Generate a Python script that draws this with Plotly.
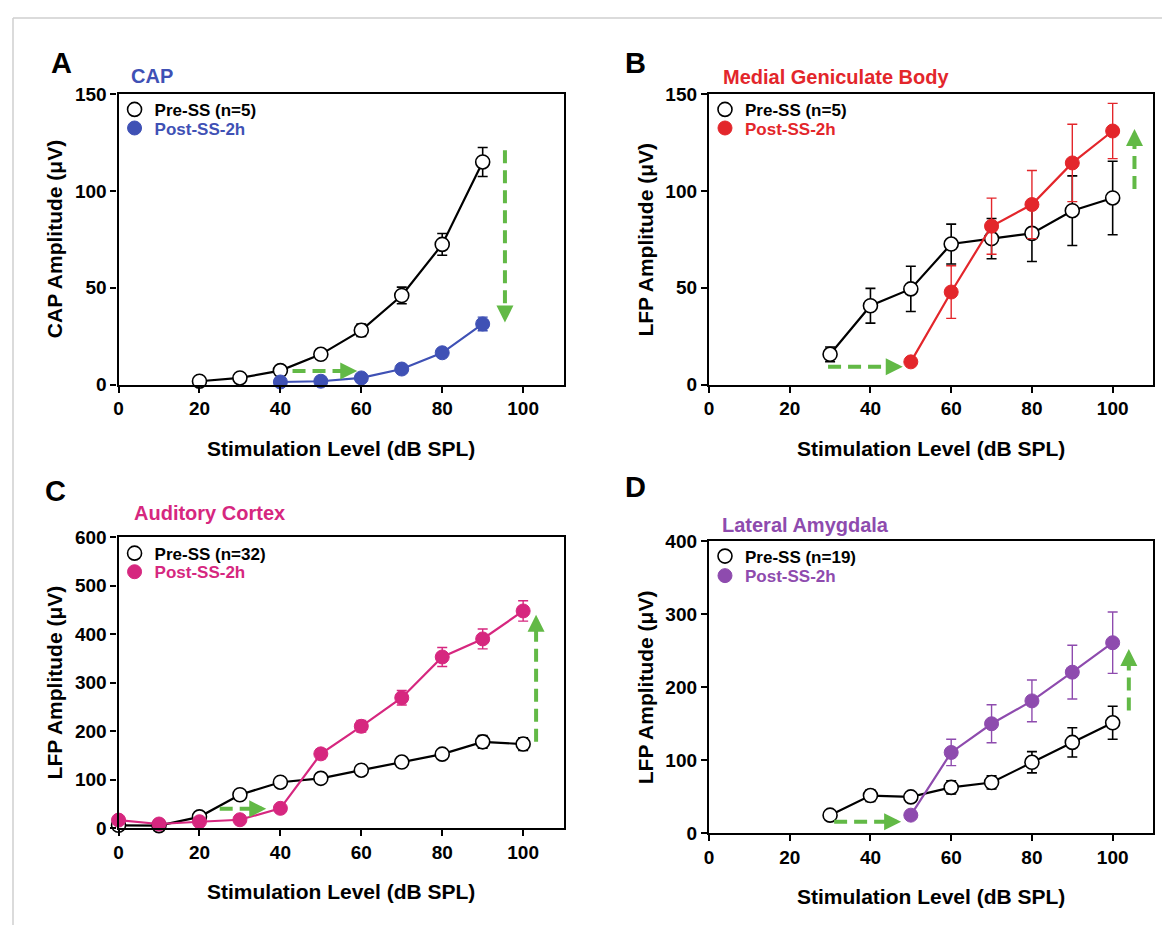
import plotly.graph_objects as go

# page is 1170x944; the html body keeps an 8px margin, so the figure fills the rest
PAGE_W, PAGE_H = 1170, 944
OFF = 8
W, H = PAGE_W - 2 * OFF, PAGE_H - 2 * OFF

# ---------------- data ----------------
# Panel A: CAP
a_pre_x = [20, 30, 40, 50, 60, 70, 80, 90]
a_pre_y = [1.7, 3.4, 7.2, 15.6, 28.0, 46.0, 72.4, 115.0]
a_pre_e = [0.8, 0.8, 1.0, 1.5, 3.2, 4.3, 5.6, 7.5]
a_post_x = [40, 50, 60, 70, 80, 90]
a_post_y = [1.3, 1.7, 3.4, 8.0, 16.4, 31.3]
a_post_e = [0.5, 0.5, 0.8, 1.0, 1.5, 3.5]

# Panel B: Medial Geniculate Body
b_pre_x = [30, 40, 50, 60, 70, 80, 90, 100]
b_pre_y = [15.6, 40.7, 49.4, 72.6, 75.4, 78.1, 89.8, 96.4]
b_pre_e = [3.8, 9.0, 11.7, 10.3, 10.4, 14.5, 18.0, 19.0]
b_post_x = [50, 60, 70, 80, 90, 100]
b_post_y = [11.7, 47.8, 81.8, 93.0, 114.5, 131.0]
b_post_e = [1.0, 13.6, 14.5, 17.6, 20.0, 14.3]

# Panel C: Auditory Cortex
c_pre_x = [0, 10, 20, 30, 40, 50, 60, 70, 80, 90, 100]
c_pre_y = [6.0, 5.4, 23.5, 69.0, 94.8, 102.8, 119.6, 136.4, 152.6, 178.0, 173.4]
c_pre_e = [2.0, 2.0, 3.0, 4.0, 4.0, 4.0, 5.0, 6.0, 6.0, 13.0, 13.0]
c_post_x = [0, 10, 20, 30, 40, 50, 60, 70, 80, 90, 100]
c_post_y = [16.8, 8.7, 13.4, 17.5, 41.0, 153.2, 210.0, 268.8, 352.8, 390.0, 447.6]
c_post_e = [3.0, 2.0, 3.0, 3.0, 5.0, 10.0, 12.0, 15.0, 19.5, 20.5, 21.0]

# Panel D: Lateral Amygdala
d_pre_x = [30, 40, 50, 60, 70, 80, 90, 100]
d_pre_y = [24.6, 51.4, 49.6, 62.6, 69.3, 97.0, 124.2, 151.0]
d_pre_e = [3.0, 8.0, 6.0, 9.0, 9.0, 14.5, 20.0, 22.6]
d_post_x = [50, 60, 70, 80, 90, 100]
d_post_y = [24.6, 110.4, 149.7, 181.0, 220.3, 260.6]
d_post_e = [3.0, 18.0, 26.0, 28.6, 36.8, 42.0]

panel_letters = ["A", "B", "C", "D"]
panel_titles = ["CAP", "Medial Geniculate Body", "Auditory Cortex", "Lateral Amygdala"]
pre_names = ["Pre-SS (n=5)", "Pre-SS (n=5)", "Pre-SS (n=32)", "Pre-SS (n=19)"]
post_name = "Post-SS-2h"
y_titles = ["CAP Amplitude (\u03bcV)", "LFP Amplitude (\u03bcV)", "LFP Amplitude (\u03bcV)", "LFP Amplitude (\u03bcV)"]
x_title = "Stimulation Level (dB SPL)"
y_max = [150, 150, 600, 400]
y_dtick = [50, 50, 100, 100]
x_ticks = [0, 20, 40, 60, 80, 100]

# green arrows (data coords): (x0, y0, x1, y1), head at (x1, y1)
arrows = [
    [(43, 7, 59, 7), (95.5, 121, 95.5, 32)],
    [(29.5, 9.2, 48, 9.2), (105.4, 101, 105.4, 132)],
    [(25, 40, 36.5, 40), (103.2, 178, 103.2, 440)],
    [(31, 15.6, 47.6, 15.6), (104, 168, 104, 252)],
]

# ---------------- styles ----------------
colors = ["#3F51B5", "#E3262B", "#D6277F", "#8E4BAE"]
GREEN = "#62B946"
FONT = "Liberation Sans, Arial, sans-serif"

# layout in pixels of the screenshot
boxes = [  # left, top, right, bottom
    (114, 86, 561, 383),
    (707, 86, 1153, 383),
    (114, 539, 561, 837),
    (707, 543, 1153, 842),
]
letter_pos = [(57, 54), (633, 54), (51, 492), (633, 488)]
title_pos = [(125, 67), (719, 68), (128, 514), (718, 527)]
legend_rows = [(16, 35), (16, 35), (17, 36), (16, 36)]


def px(x):
    return (x - OFF) / W


def py(y):
    return 1 - (y - OFF) / H


pre = [(a_pre_x, a_pre_y, a_pre_e), (b_pre_x, b_pre_y, b_pre_e),
       (c_pre_x, c_pre_y, c_pre_e), (d_pre_x, d_pre_y, d_pre_e)]
post = [(a_post_x, a_post_y, a_post_e), (b_post_x, b_post_y, b_post_e),
        (c_post_x, c_post_y, c_post_e), (d_post_x, d_post_y, d_post_e)]

fig = go.Figure()
annotations = []
shapes = []
leg_n = 0

for i in range(4):
    l, t, r, b = boxes[i]
    xa = "x" if i == 0 else f"x{i+1}"
    ya = "y" if i == 0 else f"y{i+1}"
    xkey = "xaxis" if i == 0 else f"xaxis{i+1}"
    ykey = "yaxis" if i == 0 else f"yaxis{i+1}"
    col = colors[i]

    axis_common = dict(showline=True, linewidth=2.2, linecolor="black", mirror=True,
                       ticks="outside", ticklen=6, tickwidth=2.2, tickcolor="black",
                       showgrid=False, zeroline=False,
                       tickfont=dict(family=FONT, size=19, color="black", weight="bold"))
    fig.update_layout({
        xkey: dict(domain=[px(l), px(r)], anchor=ya, range=[0, 110],
                   tickvals=x_ticks, **axis_common),
        ykey: dict(domain=[py(b), py(t)], anchor=xa, range=[0, y_max[i]],
                   dtick=y_dtick[i], tick0=0, **axis_common),
    })

    px_, py_, pe_ = pre[i]
    fig.add_trace(go.Scatter(
        x=px_, y=py_, mode="lines+markers", xaxis=xa, yaxis=ya, showlegend=False,
        line=dict(color="black", width=2.2), cliponaxis=False,
        marker=dict(size=14, color="white", line=dict(color="black", width=1.6)),
        error_y=dict(type="data", array=pe_, visible=True, color="black",
                     thickness=1.6, width=5)))
    qx, qy, qe = post[i]
    fig.add_trace(go.Scatter(
        x=qx, y=qy, mode="lines+markers", xaxis=xa, yaxis=ya, showlegend=False,
        line=dict(color=col, width=2.2), cliponaxis=False,
        marker=dict(size=14, color=col, line=dict(color=col, width=1)),
        error_y=dict(type="data", array=qe, visible=True, color=col,
                     thickness=1.4, width=5)))

    # legend-only entries (markers only), one legend per row
    entries = [(pre_names[i], "black",
                dict(size=14, color="white", line=dict(color="black", width=1.6))),
               (post_name, col, dict(size=14, color=col, line=dict(color=col, width=1)))]
    for k, (nm, tc, mk) in enumerate(entries):
        leg_n += 1
        lg = "legend" if leg_n == 1 else f"legend{leg_n}"
        fig.add_trace(go.Scatter(x=[None], y=[None], mode="markers", xaxis=xa, yaxis=ya,
                                 legend=lg, name=nm, marker=mk))
        fig.update_layout({lg: dict(x=px(l - 4), y=py(t + legend_rows[i][k]),
                                    xanchor="left", yanchor="middle",
                                    bgcolor="rgba(0,0,0,0)", borderwidth=0,
                                    itemwidth=30,
                                    font=dict(family=FONT, size=17, color=tc, weight="bold"))})

    # arrows
    for (x0, y0, x1, y1) in arrows[i]:
        horiz = (y0 == y1)
        sgn = 1 if ((x1 > x0) if horiz else (y1 > y0)) else -1
        cut = 2.0 if horiz else y_max[i] * 0.028
        if horiz:
            ex, ey = x1 - sgn * cut, y1
        else:
            ex, ey = x1, y1 - sgn * cut
        shapes.append(dict(type="line", xref=xa, yref=ya, x0=x0, y0=y0, x1=ex, y1=ey,
                           line=dict(color=GREEN, width=4, dash="13px,7px")))
        annotations.append(dict(xref=xa, yref=ya, axref=xa, ayref=ya, x=x1, y=y1,
                                ax=ex, ay=ey, text="", showarrow=True,
                                arrowhead=2, arrowsize=0.85, arrowwidth=4,
                                arrowcolor=GREEN))

    # panel letters / titles
    lx, ly = letter_pos[i]
    annotations.append(dict(xref="paper", yref="paper", x=px(lx), y=py(ly), text=panel_letters[i],
                            showarrow=False, xanchor="center", yanchor="middle",
                            font=dict(family=FONT, size=29, color="black", weight="bold")))
    tx, ty = title_pos[i]
    annotations.append(dict(xref="paper", yref="paper", x=px(tx), y=py(ty), text=panel_titles[i],
                            showarrow=False, xanchor="left", yanchor="middle",
                            font=dict(family=FONT, size=20, color=col, weight="bold")))
    # axis titles
    annotations.append(dict(xref="paper", yref="paper", x=px(l - 64), y=py((t + b) / 2),
                            text=y_titles[i], textangle=-90, showarrow=False,
                            xanchor="center", yanchor="middle",
                            font=dict(family=FONT, size=21, color="black", weight="bold")))
    annotations.append(dict(xref="paper", yref="paper", x=px((l + r) / 2), y=py(b + 65),
                            text=x_title, showarrow=False, xanchor="center", yanchor="middle",
                            font=dict(family=FONT, size=21, color="black", weight="bold")))

# light frame of the figure
shapes.append(dict(type="line", xref="paper", yref="paper", x0=0, x1=0, y0=0, y1=1,
                   line=dict(color="#cfcfcf", width=1.5)))
shapes.append(dict(type="line", xref="paper", yref="paper", x0=0, x1=1, y0=1, y1=1,
                   line=dict(color="#cfcfcf", width=1.5)))

fig.update_layout(width=W, height=H, margin=dict(l=0, r=0, t=0, b=0),
                  paper_bgcolor="white", plot_bgcolor="white",
                  annotations=annotations, shapes=shapes,
                  font=dict(family=FONT))

fig.write_html("out.html")
